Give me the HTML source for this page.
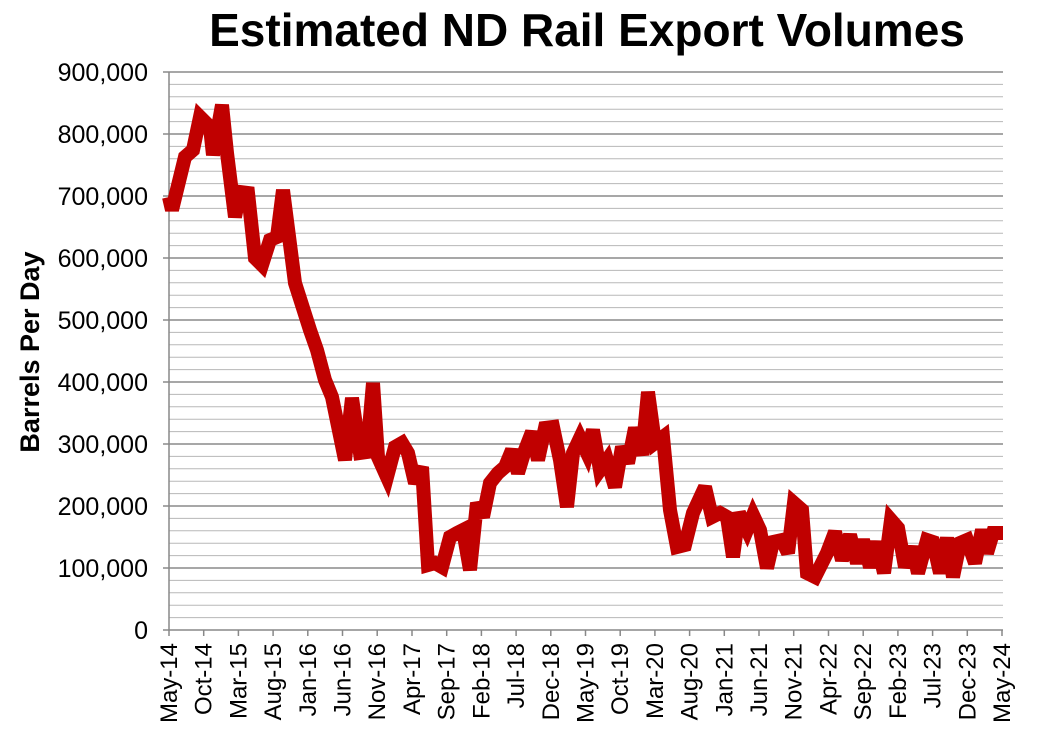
<!DOCTYPE html><html><head><style>body{margin:0;background:#fff}svg{display:block}</style></head><body>
<svg width="1042" height="744" xmlns="http://www.w3.org/2000/svg" font-family="Liberation Sans, Arial, sans-serif">
<rect width="1042" height="744" fill="#fff"/>
<text x="587" y="46" font-size="46" font-weight="bold" text-anchor="middle">Estimated ND Rail Export Volumes</text>
<path fill="none" stroke="#b8b8b8" stroke-width="1" d="M169 617.6H1003M169 605.2H1003M169 592.8H1003M169 580.4H1003M169 555.6H1003M169 543.2H1003M169 530.8H1003M169 518.4H1003M169 493.6H1003M169 481.2H1003M169 468.8H1003M169 456.4H1003M169 431.6H1003M169 419.2H1003M169 406.8H1003M169 394.4H1003M169 369.6H1003M169 357.2H1003M169 344.8H1003M169 332.4H1003M169 307.6H1003M169 295.2H1003M169 282.8H1003M169 270.4H1003M169 245.6H1003M169 233.2H1003M169 220.8H1003M169 208.4H1003M169 183.6H1003M169 171.2H1003M169 158.8H1003M169 146.4H1003M169 121.6H1003M169 109.2H1003M169 96.8H1003M169 84.4H1003"/>
<path fill="none" stroke="#8a8a8a" stroke-width="1.5" d="M163 568H1003M163 506H1003M163 444H1003M163 382H1003M163 320H1003M163 258H1003M163 196H1003M163 134H1003M163 72H1003"/>
<line x1="169" y1="72" x2="169" y2="630" stroke="#888" stroke-width="1.5"/>
<line x1="163" y1="630" x2="1003" y2="630" stroke="#888" stroke-width="1.5"/>
<path fill="none" stroke="#888" stroke-width="1.5" d="M169 630v6M203.7 630v6M238.4 630v6M273.1 630v6M307.8 630v6M342.5 630v6M377.2 630v6M412 630v6M446.7 630v6M481.4 630v6M516.1 630v6M550.8 630v6M585.5 630v6M620.2 630v6M654.9 630v6M689.6 630v6M724.3 630v6M759 630v6M793.7 630v6M828.5 630v6M863.2 630v6M897.9 630v6M932.6 630v6M967.3 630v6M1002 630v6"/>
<g font-size="25" text-anchor="end">
<text x="148" y="639">0</text><text x="148" y="577">100,000</text><text x="148" y="515">200,000</text><text x="148" y="453">300,000</text><text x="148" y="391">400,000</text><text x="148" y="329">500,000</text><text x="148" y="267">600,000</text><text x="148" y="205">700,000</text><text x="148" y="143">800,000</text><text x="148" y="81">900,000</text>
</g>
<text transform="translate(39,352) rotate(-90)" font-size="27" font-weight="bold" text-anchor="middle">Barrels Per Day</text>
<g font-size="24" text-anchor="end">
<text transform="translate(177,643) rotate(-90)">May-14</text>
<text transform="translate(211.7,643) rotate(-90)">Oct-14</text>
<text transform="translate(246.4,643) rotate(-90)">Mar-15</text>
<text transform="translate(281.1,643) rotate(-90)">Aug-15</text>
<text transform="translate(315.8,643) rotate(-90)">Jan-16</text>
<text transform="translate(350.5,643) rotate(-90)">Jun-16</text>
<text transform="translate(385.2,643) rotate(-90)">Nov-16</text>
<text transform="translate(420,643) rotate(-90)">Apr-17</text>
<text transform="translate(454.7,643) rotate(-90)">Sep-17</text>
<text transform="translate(489.4,643) rotate(-90)">Feb-18</text>
<text transform="translate(524.1,643) rotate(-90)">Jul-18</text>
<text transform="translate(558.8,643) rotate(-90)">Dec-18</text>
<text transform="translate(593.5,643) rotate(-90)">May-19</text>
<text transform="translate(628.2,643) rotate(-90)">Oct-19</text>
<text transform="translate(662.9,643) rotate(-90)">Mar-20</text>
<text transform="translate(697.6,643) rotate(-90)">Aug-20</text>
<text transform="translate(732.3,643) rotate(-90)">Jan-21</text>
<text transform="translate(767,643) rotate(-90)">Jun-21</text>
<text transform="translate(801.7,643) rotate(-90)">Nov-21</text>
<text transform="translate(836.5,643) rotate(-90)">Apr-22</text>
<text transform="translate(871.2,643) rotate(-90)">Sep-22</text>
<text transform="translate(905.9,643) rotate(-90)">Feb-23</text>
<text transform="translate(940.6,643) rotate(-90)">Jul-23</text>
<text transform="translate(975.3,643) rotate(-90)">Dec-23</text>
<text transform="translate(1010,643) rotate(-90)">May-24</text>
</g>
<polyline fill="none" stroke="#c00000" stroke-width="14" stroke-linejoin="miter" stroke-miterlimit="3" points="169,197 172,210 185,157 193,150 200,117 210,127 213,155 222,105 227,153 235,217 240,192 248,193 255,258 262,265 270,240 277,237 283,190 295,283 310,330 317,350 325,380 332,397 345,460 352,398 360,453 367,452 373,383 378,457 387,477 395,447 402,443 408,453 415,483 422,467 428,565 435,563 442,567 450,537 457,533 463,530 470,570 477,503 483,517 490,483 498,473 505,467 512,450 518,473 525,450 532,432 538,460 545,428 553,427 560,460 567,507 573,453 580,438 587,453 593,430 600,470 607,460 615,487 622,447 628,463 635,428 642,455 648,392 655,443 663,437 670,510 677,547 685,545 693,513 705,487 712,517 720,513 727,517 733,557 739,513 747,530 753,515 760,530 767,568 773,542 782,540 788,553 794,503 802,510 807,573 815,577 827,553 835,532 842,560 850,535 857,563 863,540 870,567 877,542 884,573 891,520 898,528 905,567 912,547 918,573 927,540 933,542 940,573 947,538 953,577 960,543 967,540 975,563 982,530 987,553 993,533 1003,533"/>
</svg></body></html>
